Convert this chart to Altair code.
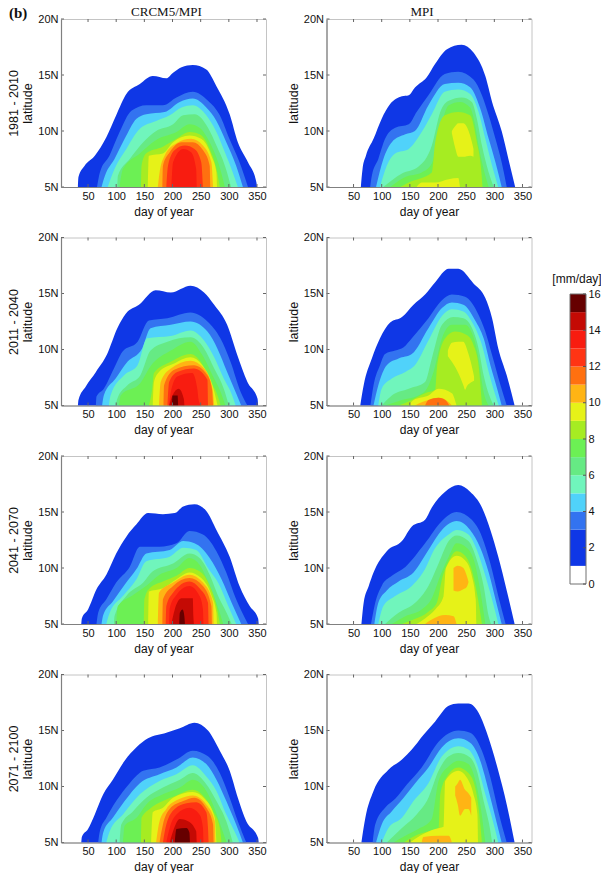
import altair as alt
import pandas as pd

# ---- contour envelopes: (day, top latitude) or (day, top latitude, bottom latitude)
A1_L01 = [(32,5),(33,5.9),(44,6.9),(62,7.8),(82.5,9.45),(100,11.4),(118,13.3),(142,14.2),(165,14.9),(189,14.7),(201,15.2),(216,15.7),(236,15.9),(260,15.5),(278,14),(301.5,11.5),(316,9),(334,7.2),(349,5.4),(350,5)]
A1_L03 = [(66,5),(71,6.3),(88,7.8),(106,9.9),(127,11.8),(153.5,12.3),(183,12.3),(207,13),(236,13.5),(263,12.7),(284,11.4),(301,9.3),(319,7.2),(334,5)]
A1_L04 = [(74,5),(80,6),(97,7.5),(115,9.3),(136,11.1),(153.5,11.5),(186,11.7),(213,12.6),(236,12.9),(260,12.1),(278,10.9),(295.5,9),(313,6.9),(325,5)]
A1_L05 = [(85,5),(97,6.6),(118,8.4),(142,10.2),(171,10.9),(195,11.4),(216,12.1),(236,12.3),(260,11.4),(278,9.9),(293,8.1),(307,6.3),(316,5)]
A1_L06 = [(102,5),(103,6),(124,7.5),(148,9),(171,10),(201,10.6),(219,11.4),(239,11.5),(263,10.3),(278,8.7),(293,6.9),(304,5)]
A1_L07 = [(106,5),(112,6.6),(142,8),(171,9.2),(207,9.9),(230,10.6),(248,10.3),(266,9),(281,7.2),(293,5)]
A1_L08 = [(144,5),(145,6.9),(153,8),(183,8.6),(207,9.3),(230,9.9),(248,9.7),(266,8.4),(278,6.6),(284,5)]
A1_L09 = [(156,5),(157,6.9),(158,7.8),(183,8),(201,9),(230,9.6),(251,9.3),(269,7.8),(278,6.3),(279,5)]
A1_L10 = [(174,5),(177,6.3),(186,7.8),(207,8.9),(233,9.3),(254,8.7),(269,7.2),(272,5)]
A1_L11 = [(182,5),(183,6.9),(195,8.1),(216,9),(236,9),(254,8.3),(266,6.9),(267,5)]
A1_L12 = [(189,5),(192,6.9),(204,8.3),(222,8.7),(239,8.4),(251,7.2),(254,5)]
A1_L13 = [(198,5),(201,7.2),(219,8.4),(233,8.1),(242,6.6),(243,5)]

B1_L01 = [(63,5),(66,6.6),(72,7.8),(85.5,9.3),(100,11.1),(115,12.4),(136,13.1),(148,13.2),(159.5,13.9),(180,14.8),(195,16),(216,17.3),(242,17.7),(263,17),(284,14.9),(296,12.6),(313,10),(325,7.5),(337,5)]
B1_L03 = [(79.6,5),(82.5,6),(94,7.5),(106,9.3),(124,10.3),(148,10.6),(162,11.7),(183,13.2),(212,15.1),(236,15.3),(263,14.6),(278,13.2),(290,11.4),(302,9.3),(313,7.2),(322,5)]
B1_L04 = [(90,5),(103,7.5),(118,9),(142,9.7),(159,10),(183,12.3),(212,14.2),(236,14.3),(257,13.9),(275,12),(290,9.3),(302,7.2),(313,5)]
B1_L05 = [(97,5),(109,6.9),(124,8),(148,8.4),(171,9.9),(189,11.5),(212,13.5),(236,13.7),(257,13.3),(272,11.7),(284,9.3),(296,6.9),(307,5)]
B1_L06 = [(103,5),(136,6.2),(165,6.8),(189,8.7),(204,11.7),(219,12.7),(242,13),(260,12.6),(269,11.1),(278,8.7),(290,6.3),(299,5)]
B1_L07 = [(115,5),(142,5.9),(171,6.3),(189,7.1),(204,10.2),(219,12.3),(239,12.6),(257,12.1),(266,10.5),(272,8.7),(284,6),(290,5)]
B1_L08 = [(133,5),(148,5.4),(189,6.3),(195,9),(212,11.4),(236,11.7),(257,11.4),(269,9),(276,6.9),(279,5)]
B1_L09 = [(162,5),(171,5.4),(195,5.4),(219,5.7),(236,5.8),(239,5)]
B1_L09B = [(224.6,10,9.8),(230,10.4,8.6),(236,10.7,7.7),(245,10.7,7.7),(257,9.6,7.8),(263,8.4,7.7)]

A2_L01 = [(32,5),(33,5.5),(46,6.7),(64,8),(84,9.6),(102,11.9),(117,13.2),(140.5,14),(170,15.3),(197,15.1),(232,15.7),(256,15.1),(274,14),(297,12.2),(315,9.5),(333,7.1),(351,5.6),(352,5)]
A2_L03 = [(64,5),(65,5.8),(78,6.5),(96,8.3),(111,9.8),(138,10.7),(158,12.6),(191,12.8),(232,13.3),(262,12.5),(285,11),(303,8.9),(321,6.2),(333,5)]
A2_L04 = [(75,5),(78,5.9),(99,7.4),(120,8.9),(146,10.1),(161,11.9),(197,12.2),(232,12.5),(262,11.6),(279.6,10.1),(297,8),(312,6.2),(322,5)]
A2_L05 = [(87,5),(90,5.9),(114,7.7),(138,8.6),(155,11),(197,11.2),(232,11.7),(256,10.8),(274,9.3),(291,7.4),(306,5.9),(312,5)]
A2_L06 = [(99,5),(102,5.6),(120,6.8),(143,7.7),(161,9.9),(191,10.7),(232,11.1),(256,10.1),(274,8.3),(291,6.5),(300,5)]
A2_L07 = [(105,5),(108,5.9),(143,7),(161,8.5),(197,9.9),(232,10.7),(253,9.5),(271,7.7),(285.5,6.2),(294,5)]
A2_L08 = [(158,5),(164,6.5),(167,7.9),(197,8.9),(232,9.6),(250,8.9),(268,7.1),(280,5.9),(285.5,5)]
A2_L09 = [(165,5),(167,7.1),(176,8),(203,8.75),(232,9.3),(253,8.6),(271,6.8),(280,5)]
A2_L10 = [(176,5),(179,7.1),(197,8.3),(232,9),(256,8.3),(271,6.5),(274,5)]
A2_L11 = [(184,5),(185,6.8),(203,8.2),(238,8.6),(262,7.7),(270,6.5),(272,5)]
A2_L12 = [(191,5),(194,7.1),(208.6,8),(238,8.3),(262,7.3),(263,5)]
A2_L13 = [(194,5),(197,6.2),(208.6,7.6),(235,7.9),(244,6.5),(246,5.6),(250,5)]
A2_L14 = [(194,5),(200,5.9),(211,6.5),(220,5.6),(221,5)]
A2_L15 = [(199,5),(200,5.9),(209,5.9),(210,5)]

B2_L01 = [(62,5),(68,6.8),(82.5,9.2),(97,11),(115,12.4),(136,12.9),(156.5,14),(177,14.9),(195,16),(219,17.2),(236,17.2),(263,15.9),(284,14.6),(296,12.8),(307,10.1),(322,7.7),(336,5)]
B2_L03 = [(80,5),(85.5,6.8),(97,8.6),(106,9.6),(124,9.9),(139,10.2),(153.5,11),(183,12.8),(207,14.4),(224.6,14.9),(248,14.7),(269,13.4),(284,11.6),(296,9.5),(311,6.8),(322,5)]
B2_L04 = [(85.5,5),(94,6.8),(109,8.6),(130,9.2),(153.5,9.6),(183,11.9),(207,13.7),(224.6,14.2),(245,14),(266,12.6),(281,11),(293,8.6),(305,6.5),(313,5)]
B2_L05 = [(94,5),(100,6.5),(118,7.4),(142,8),(159,8.6),(183,10.8),(207,13),(224.6,13.6),(245,13.4),(263,12.2),(278,10.4),(290,8),(302,5.9),(308,5)]
B2_L06 = [(100,5),(118,5.9),(148,6.5),(177,7.1),(189,9.2),(207,12.2),(227,12.9),(245,12.8),(263,11.6),(272,10.1),(281,7.7),(296,5.3),(299,5)]
B2_L07 = [(106,5),(136,5.5),(165,5.9),(180,6.5),(192,8),(207,11),(224.6,12.2),(248,12.2),(263,11.1),(272,9.2),(281,6.2),(290,5)]
B2_L08 = [(130,5),(153.5,5.5),(177,6.1),(195,6.4),(198,8.3),(212.7,11),(230,11.6),(251,11.3),(263,10.4),(272,8.6),(278,5)]
B2_L09 = [(148,5),(156.5,5.5),(183,5.9),(201,6.5),(224.6,6.1),(233,5)]
B2_L09B = [(217.5,9.9,9.4),(224.6,10.6,8.9),(236,10.7,7.9),(245,10.7,6.8),(248,10.5,6.4),(251,10.1,6.7),(257,9.1,7),(264,7.6,7.2)]
B2_L10 = [(159,5),(171,5.3),(183,5.5),(201,5.7),(219,5.3),(224.6,5)]
B2_L11 = [(177,5),(183,5.5),(201,5.7),(213,5.5),(220,5)]

A3_L01 = [(38,5),(39,5.5),(50,6.3),(65,8.1),(82.5,9.4),(100,11.3),(118,12.8),(136,13.9),(156.5,14.9),(183,14.8),(204,14.9),(219,15.5),(239,15.7),(260,15.1),(278,13.4),(301.5,11),(319,8.4),(337,6.6),(352,5.5),(353,5)]
A3_L03 = [(65,5),(68,6),(82.5,7.2),(100,8.7),(124,10.1),(142,11.9),(177,11.9),(207,12.2),(230,13.3),(254,13),(278,11.5),(295.5,9.6),(313,7.2),(334,5)]
A3_L04 = [(74,5),(77,5.8),(94,7),(115,8.5),(136,9.9),(153.5,11.3),(195,11.6),(219,12.4),(239,12.2),(266,10.9),(287,9),(305,6.9),(322,5)]
A3_L05 = [(82.5,5),(88.5,6),(112,7.5),(136,9),(153.5,10.6),(195,11),(219,11.8),(242,11.6),(263,10),(284,8.4),(299,6.6),(313,5)]
A3_L06 = [(96,5),(97,5.7),(118,7.5),(148,8.7),(165,9.7),(201,10.4),(230,11.3),(248,10.9),(266,9.4),(281,7.5),(296,6),(305,5)]
A3_L07 = [(100,5),(103,6.6),(130,7.6),(153,8.4),(177,9.4),(207,10),(230,10.9),(248,10.3),(263,8.8),(278,6.9),(290,5)]
A3_L08 = [(149,5),(150,7.2),(159.5,8.2),(183,8.8),(207,9.3),(230,10),(248,9.7),(266,8.4),(278,6.6),(284,5)]
A3_L09 = [(157,5),(158,7.9),(183,8.2),(207,9),(230,9.6),(251,9.1),(269,7.6),(278,6),(279,5)]
A3_L10 = [(174,5),(176,7.8),(201,8.7),(230,9.4),(254,8.7),(272,6.9),(273,5)]
A3_L11 = [(182,5),(183,7.2),(201,8.4),(230,9.1),(254,8.4),(269,6.6),(270,5)]
A3_L12 = [(188,5),(189,6.6),(201,7.8),(230,8.8),(248,8.2),(263,6.9),(264,5)]
A3_L13 = [(194,5),(195,6.4),(207,7.6),(230,8.4),(248,7.5),(254,6.3),(255,5)]
A3_L14 = [(198,5),(204,6.3),(216,7.3),(236,7.3),(237,5.7),(238,5)]
A3_L15 = [(212,5),(213,6),(218,6.3),(221,5.7),(222,5)]

B3_L01 = [(64,5),(68,6.9),(77,8.4),(85.5,9.6),(109,11.5),(136,12.4),(153.5,13.7),(177,14.3),(189,15.4),(212.7,16.8),(236,17.4),(257,16.8),(278,15.4),(293,13.4),(307,11),(322,8),(336,5)]
B3_L03 = [(81,5),(88.5,6.9),(100,8.4),(118,9.3),(142,10.1),(177,12.2),(207,14.2),(233,15),(260,14.3),(278,12.8),(293,10.4),(307,7.5),(320,5)]
B3_L04 = [(87,5),(94,6.9),(109,8),(130,8.8),(156.5,9.6),(183,11.6),(207,13.4),(233,14.2),(257,13.4),(275,11.8),(290,9.6),(305,6.6),(313,5)]
B3_L05 = [(94,5),(103,6.6),(124,7.5),(153.5,8.4),(177,9.9),(192.8,11.6),(219,13),(233,13.4),(254,13),(269,11.6),(284,9.3),(299,6.6),(307,5)]
B3_L06 = [(106,5),(130,6),(159.5,6.9),(183,8.4),(201,10.4),(219,12.4),(233,12.9),(254,12.4),(269,10.7),(281,8.4),(290,5.7),(294,5)]
B3_L07 = [(118,5),(142,5.7),(171,6.3),(189,7.3),(204,9.3),(219,11),(233,12.2),(251,11.8),(266,10.3),(275,8),(284,5)]
B3_L08 = [(136,5),(156.5,5.4),(183,6.1),(198,6.9),(207,9),(219,10.6),(233,11.5),(248,11.1),(260,9.8),(269,7.8),(278,5)]
B3_L09 = [(162,5),(177,5.5),(195,6.3),(210,7.5),(214,10),(233,11.1),(248,10.7),(260,9.3),(267,7.2),(268,5)]
B3_L10 = [(177,5),(189,5.4),(212.7,5.8),(227.5,5.7),(233,5)]
B3_L10B = [(227.5,10,8),(235,10.2,7.9),(245,10,8.1),(251,9.3,8.3),(254,8.8,8.7)]

A4_L01 = [(38,5),(39,5.5),(50,6.2),(62,7.5),(77,9.3),(94,10.6),(115,12.3),(136,13.5),(156.5,14.3),(189,14.8),(213,15.2),(239,15.7),(263,15),(284,13.2),(301.5,11.4),(316,9),(331,6.9),(352,5.4),(353,5)]
A4_L03 = [(68,5),(71,6),(82.5,7.2),(100,8.7),(124,10.3),(148,11.4),(177,11.7),(207,12.4),(236,13.2),(263,12.7),(284,11.2),(301.5,9),(316,6.9),(331,5)]
A4_L04 = [(74,5),(77,5.9),(94,7.2),(115,8.7),(142,10.3),(177,11.1),(207,11.7),(236,12.6),(260,12),(278,10.6),(295.5,8.7),(313,6.6),(325,5)]
A4_L05 = [(82.5,5),(88.5,6),(112,7.5),(142,9.3),(177,10.5),(207,11.1),(236,11.9),(260,10.9),(278,9.6),(295.5,7.5),(310,6),(319,5)]
A4_L06 = [(106,5),(109,6.6),(130,7.8),(153.5,9),(183,9.9),(213,10.6),(236,11.2),(260,10.2),(278,8.7),(295.5,6.9),(307,5)]
A4_L07 = [(112,5),(115,6.5),(136,7.2),(153.5,8.4),(183,9.3),(213,9.9),(236,10.6),(260,9.6),(275,8),(287,6.3),(296,5)]
A4_L08 = [(144,5),(145,7.2),(159.5,8),(183,8.7),(207,9.2),(236,9.7),(254,9.2),(272,7.8),(284,6.3),(287,5)]
A4_L09 = [(162,5),(165,7.7),(183,8.1),(201,9),(236,9.5),(257,8.9),(275,7.2),(278,5)]
A4_L10 = [(171,5),(177,6.9),(189,8),(213,8.9),(236,9.2),(260,8.4),(275,6.9),(276,5)]
A4_L11 = [(177,5),(183,6.6),(195,8),(219,8.7),(239,9),(260,8.1),(272,6.6),(273,5)]
A4_L12 = [(183,5),(189,6.6),(204,8),(225,8.5),(242,8.6),(260,7.7),(263,6.3),(264,5)]
A4_L13 = [(189,5),(195,6.3),(207,7.5),(230,8.1),(248,7.5),(254,6.3),(255,5)]
A4_L14 = [(195,5),(201,6),(213,7.1),(227.5,6.9),(242,6),(243,5)]
A4_L15 = [(204,5),(207,6.2),(224.6,6.3),(230,5.9),(231,5)]

B4_L01 = [(64,5),(71,7.2),(85.5,9.6),(112,11.5),(136,12.4),(153.5,13.3),(174,14.6),(195,15.8),(219,17.2),(236,17.4),(254,17.4),(275,16.3),(290,14.3),(307,11.4),(322,8.4),(336,5)]
B4_L03 = [(84,5),(88.5,6.6),(106,8.1),(124,8.9),(145,10.2),(171,11.7),(201,14),(236,15),(257,14.8),(278,13.2),(293,10.8),(307,7.8),(322,5)]
B4_L04 = [(90,5),(100,6.6),(118,7.8),(139,9),(159.5,10.3),(183,11.7),(207,13.5),(236,14.3),(257,13.9),(275,12.3),(290,9.6),(305,6.6),(313,5)]
B4_L05 = [(100,5),(112,6.3),(136,7.2),(156.5,8.7),(183,10.3),(207,12.7),(236,13.6),(254,13.3),(269,12),(284,9.3),(299,6.6),(307,5)]
B4_L06 = [(109,5),(136,6.3),(162,7.5),(183,9),(201,11.4),(219,12.7),(236,13),(257,12.6),(269,11.4),(281,8.7),(293,6),(296,5)]
B4_L07 = [(121,5),(142,5.6),(165,6.2),(189,7.1),(201,10.5),(219,11.8),(236,12.3),(254,12),(266,10.6),(275,8.4),(284,5)]
B4_L08 = [(139,5),(159.5,5.6),(183,6),(201,6.3),(204,9.3),(216,10.9),(236,11.7),(254,11.2),(266,9.9),(272,8.1),(278,5)]
B4_L09 = [(150,5),(168,5.6),(195,6.2),(210,6.4),(212.7,10.5),(236,11.4),(251,10.8),(263,9.3),(270,7.5),(271,5)]
B4_L10 = [(171,5),(174,5.5),(201,5.6),(219,5.6),(224.6,5)]
B4_L10B = [(230.5,10,9.2),(235,10.3,8.4),(239,10.6,7.4),(248,9.7,8),(254,9.4,8),(259,9,7.4)]

PANEL_A1 = [(1,A1_L01),(3,A1_L03),(4,A1_L04),(5,A1_L05),(6,A1_L06),(7,A1_L07),(8,A1_L08),(9,A1_L09),(10,A1_L10),(11,A1_L11),(12,A1_L12),(13,A1_L13)]
PANEL_B1 = [(1,B1_L01),(3,B1_L03),(4,B1_L04),(5,B1_L05),(6,B1_L06),(7,B1_L07),(8,B1_L08),(9,B1_L09),(9,B1_L09B)]
PANEL_A2 = [(1,A2_L01),(3,A2_L03),(4,A2_L04),(5,A2_L05),(6,A2_L06),(7,A2_L07),(8,A2_L08),(9,A2_L09),(10,A2_L10),(11,A2_L11),(12,A2_L12),(13,A2_L13),(14,A2_L14),(15,A2_L15)]
PANEL_B2 = [(1,B2_L01),(3,B2_L03),(4,B2_L04),(5,B2_L05),(6,B2_L06),(7,B2_L07),(8,B2_L08),(9,B2_L09),(9,B2_L09B),(10,B2_L10),(11,B2_L11)]
PANEL_A3 = [(1,A3_L01),(3,A3_L03),(4,A3_L04),(5,A3_L05),(6,A3_L06),(7,A3_L07),(8,A3_L08),(9,A3_L09),(10,A3_L10),(11,A3_L11),(12,A3_L12),(13,A3_L13),(14,A3_L14),(15,A3_L15)]
PANEL_B3 = [(1,B3_L01),(3,B3_L03),(4,B3_L04),(5,B3_L05),(6,B3_L06),(7,B3_L07),(8,B3_L08),(9,B3_L09),(10,B3_L10),(10,B3_L10B)]
PANEL_A4 = [(1,A4_L01),(3,A4_L03),(4,A4_L04),(5,A4_L05),(6,A4_L06),(7,A4_L07),(8,A4_L08),(9,A4_L09),(10,A4_L10),(11,A4_L11),(12,A4_L12),(13,A4_L13),(14,A4_L14),(15,A4_L15)]
PANEL_B4 = [(1,B4_L01),(3,B4_L03),(4,B4_L04),(5,B4_L05),(6,B4_L06),(7,B4_L07),(8,B4_L08),(9,B4_L09),(10,B4_L10),(10,B4_L10B)]

PERIODS = ["1981 - 2010", "2011 - 2040", "2041 - 2070", "2071 - 2100"]
X_TICKS = [50, 100, 150, 200, 250, 300, 350]
Y_TICKS = [5, 10, 15, 20]
BAR_LOW = [0, 1, 3, 4, 5, 6, 7, 8, 9, 10, 11, 12, 13, 14, 15]
BAR_HIGH = [1, 3, 4, 5, 6, 7, 8, 9, 10, 11, 12, 13, 14, 15, 16]
BAR_COLORS = ["#ffffff", "#0f37e6", "#3373f0", "#50d2fa", "#70f5bc", "#66ea84", "#6cf054", "#a6ec22",
              "#e6f218", "#ffb414", "#ff7010", "#ff3414", "#f81c10", "#c40a04", "#660000"]
BAR_TICKS = [0, 2, 4, 6, 8, 10, 12, 14, 16]
LEVEL_COLOR = dict(zip(BAR_LOW, BAR_COLORS))

FONT = "Liberation Sans"
W, H = 205, 168
xs = alt.Scale(domain=[2, 366], nice=False, zero=False)
ys = alt.Scale(domain=[5, 20], nice=False, zero=False)
AXC = "#808080"


def label(text, xpos, ypos, size, weight, align):
    return alt.Chart(pd.DataFrame({"s": [text]})).mark_text(
        font="Liberation Serif", fontSize=size, fontWeight=weight, align=align, baseline="alphabetic", color="#111"
    ).encode(text="s:N", x=alt.value(xpos), y=alt.value(ypos))


def panel(levels, ytitle, extras=()):
    xax = alt.Axis(values=X_TICKS, title="day of year", ticks=False, grid=False,
                   labelPadding=3, titlePadding=5,
                   labelFont=FONT, labelFontSize=11, labelColor="#111", titleFont=FONT, titleFontSize=12,
                   titleFontWeight="normal", titleColor="#111", domainColor=AXC, domainWidth=1.2, zindex=1,
                   labelFlush=False)
    yax = alt.Axis(values=Y_TICKS, title=ytitle, ticks=False, grid=False, labelPadding=3, titlePadding=3,
                   labelExpr="datum.value + 'N'", labelFont=FONT, labelFontSize=11, labelColor="#111",
                   titleFont=FONT, titleFontSize=12.5, titleFontWeight="normal", titleColor="#111",
                   titleLineHeight=14, domainColor=AXC, domainWidth=1.2, zindex=1)
    layers = []
    for level, pts in levels:
        df = pd.DataFrame({
            "day": [p[0] for p in pts],
            "hi": [p[1] for p in pts],
            "lo": [p[2] if len(p) > 2 else 5 for p in pts],
        })
        layers.append(alt.Chart(df).mark_area(color=LEVEL_COLOR[level], interpolate="monotone").encode(
            x=alt.X("day:Q", scale=xs, axis=xax),
            y=alt.Y("hi:Q", scale=ys, axis=yax, stack=None),
            y2="lo:Q",
        ))
    xdf = pd.DataFrame({"t": X_TICKS})
    ydf = pd.DataFrame({"t": Y_TICKS})
    layers.append(alt.Chart(xdf).mark_rule(color="#666").encode(
        x=alt.X("t:Q", scale=xs, axis=xax), y=alt.value(H), y2=alt.value(H - 3)))
    layers.append(alt.Chart(xdf).mark_rule(color="#666").encode(
        x=alt.X("t:Q", scale=xs, axis=xax), y=alt.value(0), y2=alt.value(3)))
    layers.append(alt.Chart(ydf).mark_rule(color="#666").encode(
        y=alt.Y("t:Q", scale=ys, axis=yax), x=alt.value(0), x2=alt.value(3)))
    layers.append(alt.Chart(ydf).mark_rule(color="#666").encode(
        y=alt.Y("t:Q", scale=ys, axis=yax), x=alt.value(W), x2=alt.value(W - 3)))
    layers.extend(extras)
    return alt.layer(*layers).properties(width=W, height=H, view=alt.ViewBackground(stroke="#c4c4c4"))


left = alt.vconcat(
    panel(PANEL_A1, [PERIODS[0], "latitude"],
          [label("(b)", -52, -1.5, 15, "bold", "left"), label("CRCM5/MPI", W / 2 + 3, -3, 13, "normal", "center")]),
    panel(PANEL_A2, [PERIODS[1], "latitude"]),
    panel(PANEL_A3, [PERIODS[2], "latitude"]),
    panel(PANEL_A4, [PERIODS[3], "latitude"]),
    spacing=12.5,
)
right = alt.vconcat(
    panel(PANEL_B1, "latitude", [label("MPI", W / 2 - 7, -3, 13, "normal", "center")]),
    panel(PANEL_B2, "latitude"),
    panel(PANEL_B3, "latitude"),
    panel(PANEL_B4, "latitude"),
    spacing=12.5,
)

CB_W = 33
CB_L = 17
bar_df = pd.DataFrame({"lo": BAR_LOW, "hi": BAR_HIGH, "c": BAR_COLORS})
bar_scale = alt.Scale(domain=[0, 16], range=[565, 275], nice=False, zero=False)
bar = alt.Chart(bar_df).mark_rect().encode(
    x=alt.value(CB_L), x2=alt.value(CB_W),
    y=alt.Y("lo:Q", scale=bar_scale,
            axis=alt.Axis(orient="right", values=BAR_TICKS, title=None, ticks=False, grid=False, domain=False,
                          labelPadding=2, labelFont=FONT, labelFontSize=11, labelColor="#111")),
    y2="hi:Q",
    color=alt.Color("c:N", scale=None),
)
frame = alt.Chart(pd.DataFrame({"lo": [0], "hi": [16]})).mark_rect(fillOpacity=0, stroke="#707070", strokeWidth=1).encode(
    x=alt.value(CB_L), x2=alt.value(CB_W), y=alt.Y("lo:Q", scale=bar_scale), y2="hi:Q")
bar_ticks_r = alt.Chart(pd.DataFrame({"t": BAR_TICKS})).mark_rule(color="#555").encode(
    y=alt.Y("t:Q", scale=bar_scale), x=alt.value(CB_W - 3), x2=alt.value(CB_W))
unit = alt.Chart(pd.DataFrame({"s": ["[mm/day]"], "v": [16]})).mark_text(
    font=FONT, fontSize=12, color="#111", align="center", baseline="bottom", dy=-8
).encode(text="s:N", y=alt.Y("v:Q", scale=bar_scale), x=alt.value(CB_L + 7))
cbar = alt.layer(bar, frame, bar_ticks_r, unit).properties(width=CB_W, height=800)

chart = alt.hconcat(left, right, cbar, spacing=19.5).properties(
    padding={"left": -1, "top": -3, "right": -1, "bottom": 0}).configure_view(stroke=None)
chart.save("out.html", embed_options={"renderer": "svg", "actions": False})
